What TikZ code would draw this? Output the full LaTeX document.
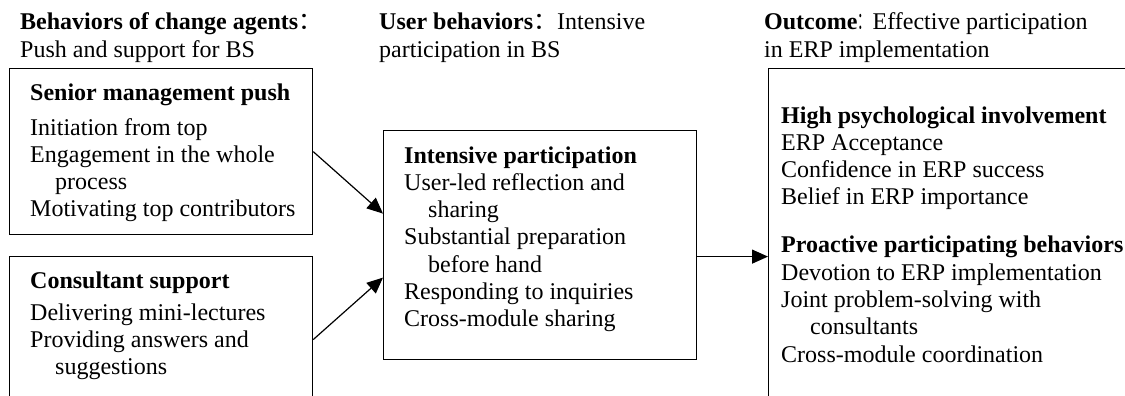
\documentclass[tikz,border=0pt]{standalone}
\usepackage{fontspec}
\setmainfont{Liberation Serif}
\newfontfamily\cjk{Noto Sans CJK SC}
\usetikzlibrary{arrows.meta}
\newcommand{\fcolon}[1]{\makebox[#1][l]{\cjk ：}}
\newcommand{\ncolon}{\scalebox{0.55}[1]{\cjk ：}\hspace{2pt}}
\begin{document}
\begin{tikzpicture}[x=1pt,y=-1pt,
  box/.style={draw, line width=1.2pt, rectangle, inner sep=0pt, anchor=north west},
  txt/.style={anchor=base west, inner sep=0pt},
  arr/.style={line width=1.2pt, -{Triangle[length=16pt,width=14pt]}}]
\useasboundingbox (0,0) rectangle (1125,396);
\clip (0,0) rectangle (1125,396);

% boxes
\node[box, minimum width=303pt, minimum height=166pt] (boxA) at (9,68) {};
\node[box, minimum width=303pt, minimum height=166pt] (boxB) at (9,256) {};
\node[box, minimum width=313pt, minimum height=229pt] (boxC) at (383,130) {};
\node[box, minimum width=420pt, minimum height=376pt] (boxD) at (768,68) {};

% headings
\node[txt] (h1) at (20,30) {\parbox[t]{340pt}{\fontsize{24}{28}\selectfont\raggedright
  \textbf{Behaviors of change agents}\fcolon{0.5em}\\
  Push and support for BS}};
\node[txt] (h2) at (379,30) {\parbox[t]{340pt}{\fontsize{24}{28}\selectfont\raggedright
  \textbf{User behaviors}\fcolon{1.0em}Intensive\\
  participation in BS}};
\node[txt] (h3) at (764,30) {\parbox[t]{400pt}{\fontsize{24}{28}\selectfont\raggedright
  \textbf{Outcome}\ncolon Effective participation\\
  in ERP implementation}};

% box texts
\node[txt] (tA) at (30,100) {\parbox[t]{280pt}{\fontsize{24}{27.3}\selectfont\raggedright
  \textbf{Senior management push}\\[7.7pt]
  Initiation from top\\
  Engagement in the whole\\
  \hspace*{25pt}process\\
  Motivating top contributors}};
\node[txt] (tB) at (30,288) {\parbox[t]{280pt}{\fontsize{24}{27.3}\selectfont\raggedright
  \textbf{Consultant support}\\[4.7pt]
  Delivering mini-lectures\\
  Providing answers and\\
  \hspace*{25pt}suggestions}};
\node[txt] (tC) at (404,163) {\parbox[t]{290pt}{\fontsize{24}{27.3}\selectfont\raggedright
  \textbf{Intensive participation}\\
  User-led reflection and\\
  \hspace*{24pt}sharing\\
  Substantial preparation\\
  \hspace*{24pt}before hand\\
  Responding to inquiries\\
  Cross-module sharing}};
\node[txt] (tD) at (781,123) {\parbox[t]{400pt}{\fontsize{24}{27.3}\selectfont\raggedright
  \textbf{High psychological involvement}\\
  ERP Acceptance\\
  Confidence in ERP success\\
  Belief in ERP importance\\[20.7pt]
  \textbf{Proactive participating behaviors}\\
  Devotion to ERP implementation\\
  Joint problem-solving with\\
  \hspace*{29pt}consultants\\
  Cross-module coordination}};

% connectors
\draw[arr] (boxA.east) -- ([yshift=31.5pt]boxC.west);
\draw[arr] (boxB.east) -- ([yshift=-32.5pt]boxC.west);
\draw[arr] ([yshift=-11.5pt]boxC.east) -- (boxD.west);
\end{tikzpicture}
\end{document}
